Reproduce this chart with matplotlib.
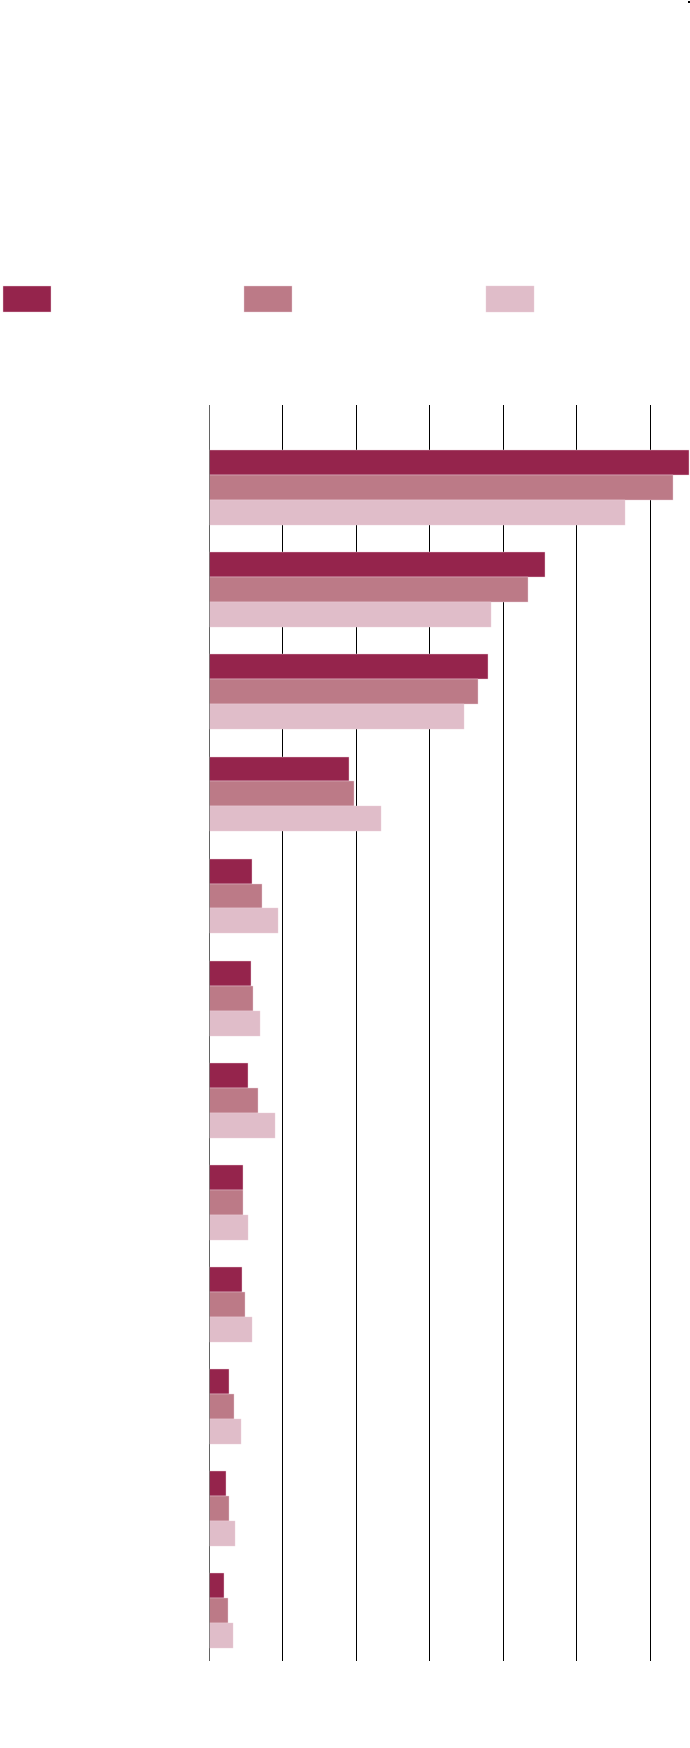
import matplotlib
matplotlib.use("Agg")
import matplotlib.pyplot as plt
from matplotlib.patches import Rectangle
import numpy as np

# ---- data (grid unit = 1) ----
categories = list(range(12))
series_a = [6.53, 4.57, 3.80, 1.91, 0.59, 0.57, 0.54, 0.47, 0.45, 0.28, 0.23, 0.21]
series_b = [6.32, 4.34, 3.67, 1.98, 0.73, 0.60, 0.67, 0.47, 0.49, 0.35, 0.28, 0.26]
series_c = [5.67, 3.84, 3.47, 2.35, 0.94, 0.70, 0.90, 0.54, 0.59, 0.44, 0.36, 0.33]
grid_ticks = [0, 1, 2, 3, 4, 5, 6]

colors = ["#95244C", "#BC7A87", "#E0BDC9"]

W, H = 690, 1748
fig = plt.figure(figsize=(W / 100, H / 100), dpi=100)
fig.patch.set_facecolor("white")

left_px, right_px, top_px, bot_px = 208.7, 690, 405, 1661
ax = fig.add_axes([left_px / W, 1 - bot_px / H, (right_px - left_px) / W, (bot_px - top_px) / H])

bh = 0.244
y = np.array(categories, dtype=float)
for vals, off, c in zip([series_a, series_b, series_c], [-bh, 0, bh], colors):
    ax.barh(y + off, vals, height=bh, color=c, edgecolor="#ecd0d9", linewidth=0.3, zorder=2)

ax.set_xlim(0, (right_px - left_px) / 73.5)
ax.set_ylim(11.491, -0.808)
ax.set_xticks(grid_ticks)
ax.set_yticks([])
ax.tick_params(axis="x", length=0, labelbottom=False)
for s in ax.spines.values():
    s.set_visible(False)
ax.grid(axis="x", color="black", linewidth=0.72, zorder=0)
ax.set_axisbelow(True)
ax.axvline(0, color="#777777", linewidth=1.2, zorder=3)

# legend swatches
for x0, c in zip([3, 244, 486], colors):
    fig.add_artist(Rectangle((x0 / W, 1 - 311.5 / H), 48 / W, 26 / H, transform=fig.transFigure,
                             facecolor=c, edgecolor="#ecd0d9", linewidth=0.3))

# tiny corner mark
fig.add_artist(Rectangle((687.5 / W, 1 - 3 / H), 2 / W, 2.5 / H, transform=fig.transFigure,
                         facecolor="black", edgecolor="none"))

fig.savefig("out.png", dpi=100, facecolor="white")
